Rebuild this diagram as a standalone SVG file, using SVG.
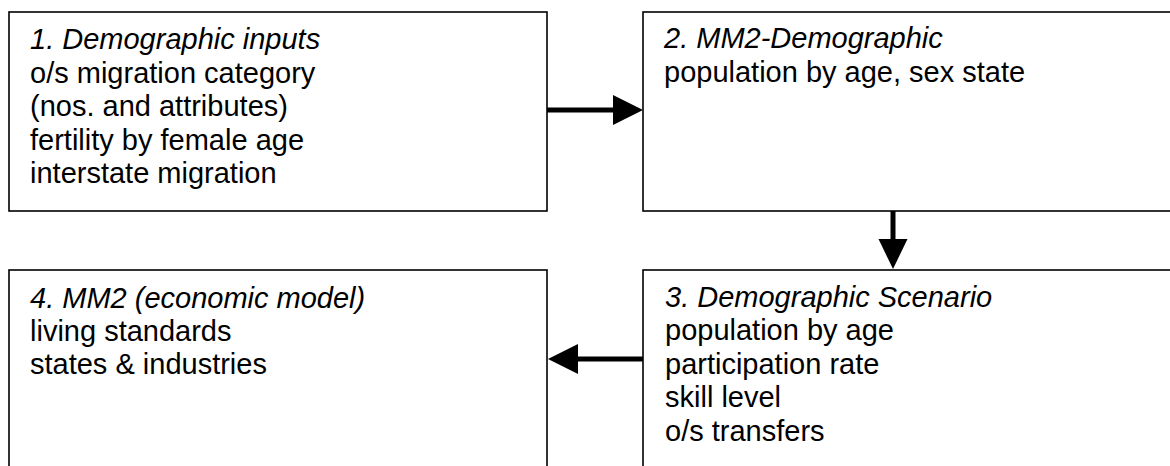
<svg xmlns="http://www.w3.org/2000/svg" width="1170" height="466" viewBox="0 0 1170 466">
<style>
.box{fill:#fff;stroke:#000;stroke-width:1.6}
.t{font-family:"Liberation Sans",Arial,sans-serif;font-size:29px;fill:#000}
.h{font-style:italic}
.c{stroke:#000;stroke-width:5;fill:none}
.ah{fill:#000}
</style>
<rect width="1170" height="466" fill="#fff"/>
<g id="node1">
<rect class="box" x="9" y="12" width="538" height="199"/>
<text class="t" x="30"><tspan class="h" y="49">1. Demographic inputs</tspan><tspan x="30" y="83">o/s migration category</tspan><tspan x="30" y="116">(nos. and attributes)</tspan><tspan x="30" y="150">fertility by female age</tspan><tspan x="30" y="183">interstate migration</tspan></text>
</g>
<g id="node2">
<rect class="box" x="643" y="12" width="540" height="199"/>
<text class="t" x="664"><tspan class="h" y="48">2. MM2-Demographic</tspan><tspan x="664" y="82">population by age, sex state</tspan></text>
</g>
<g id="node3">
<rect class="box" x="643" y="270" width="540" height="210"/>
<text class="t" x="665"><tspan class="h" y="307">3. Demographic Scenario</tspan><tspan x="665" y="340">population by age</tspan><tspan x="665" y="374">participation rate</tspan><tspan x="665" y="407">skill level</tspan><tspan x="665" y="441">o/s transfers</tspan></text>
</g>
<g id="node4">
<rect class="box" x="9" y="270" width="538" height="210"/>
<text class="t" x="30"><tspan class="h" y="308">4. MM2 (economic model)</tspan><tspan x="30" y="341">living standards</tspan><tspan x="30" y="374">states &amp; industries</tspan></text>
</g>
<g id="connectors">
<line class="c" x1="547" y1="110" x2="615" y2="110"/>
<polygon class="ah" points="613,95 643,110 613,125"/>
<line class="c" x1="893" y1="211" x2="893" y2="241"/>
<polygon class="ah" points="878.5,239 907.5,239 893,269"/>
<line class="c" x1="643" y1="359" x2="576" y2="359"/>
<polygon class="ah" points="578,344 548,359 578,374"/>
</g>
</svg>
